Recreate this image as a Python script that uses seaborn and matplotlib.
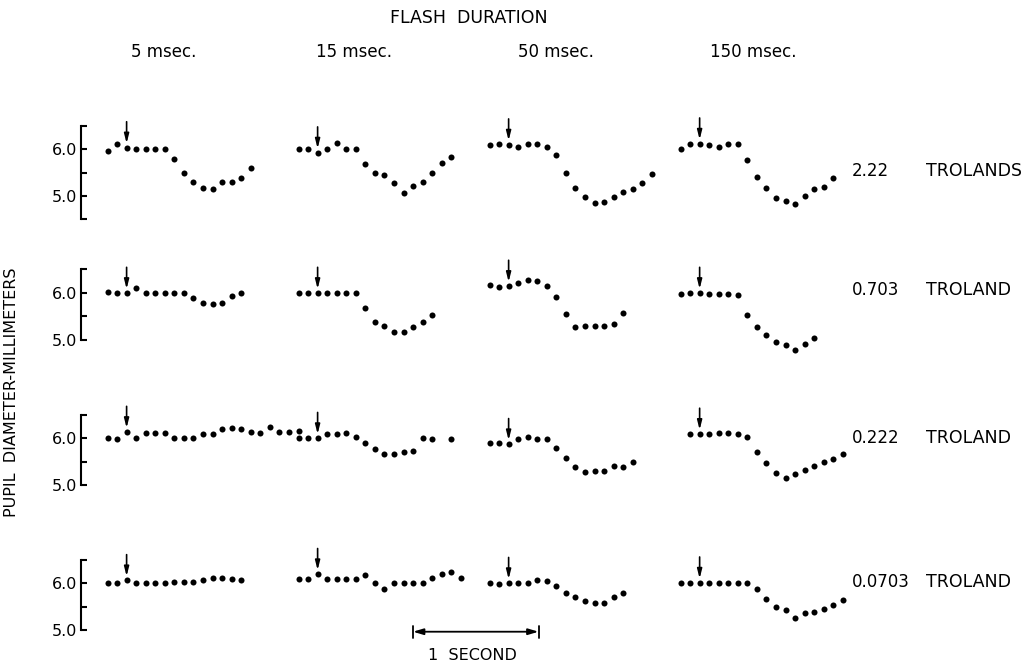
import numpy as np
import pandas as pd
import matplotlib
matplotlib.use("Agg")
import matplotlib.pyplot as plt
import seaborn as sns

# ---------------------------------------------------------------------------
# Pupil diameter (mm), one reading per film frame, for each retinal
# illuminance (rows) and flash duration (columns). NaN = frame not scored.
# ---------------------------------------------------------------------------
nan = np.nan

durations = ["5 msec.", "15 msec.", "50 msec.", "150 msec."]
illuminance_values = ["2.22", "0.703", "0.222", "0.0703"]
illuminance_units = ["TROLANDS", "TROLAND", "TROLAND", "TROLAND"]

# 2.22 trolands
d_222_5 = [5.96, 6.10, 6.03, 6.01, 6.01, 6.01, 6.01, 5.79, 5.48, 5.29, 5.18, 5.14, 5.29, 5.29, 5.39, 5.59]
d_222_15 = [6.01, 6.01, 5.92, 6.01, 6.13, 6.01, 6.01, 5.68, 5.50, 5.45, 5.28, 5.07, 5.21, 5.29, 5.50, 5.71, 5.82]
d_222_50 = [6.09, 6.10, 6.09, 6.05, 6.10, 6.10, 6.04, 5.88, 5.48, 5.16, 4.97, 4.86, 4.87, 4.97, 5.08, 5.15, 5.28, 5.46]
d_222_150 = [6.00, 6.11, 6.11, 6.09, 6.04, 6.11, 6.10, 5.77, 5.40, 5.16, 4.95, 4.89, 4.84, 4.99, 5.15, 5.19, 5.38]

# 0.703 troland
d_0703_5 = [6.01, 6.00, 5.99, 6.11, 6.00, 6.00, 6.00, 5.99, 6.00, 5.89, 5.79, 5.76, 5.79, 5.92, 5.99]
d_0703_15 = [5.99, 5.99, 5.99, 5.99, 5.99, 6.00, 6.00, 5.68, 5.37, 5.30, 5.16, 5.16, 5.26, 5.37, 5.53]
d_0703_50 = [6.16, 6.13, 6.14, 6.20, 6.27, 6.25, 6.15, 5.90, 5.55, 5.26, 5.29, 5.30, 5.30, 5.33, 5.56]
d_0703_150 = [5.97, 5.99, 5.99, 5.97, 5.97, 5.97, 5.95, 5.53, 5.26, 5.10, 4.95, 4.89, 4.78, 4.90, 5.03]

# 0.222 troland
d_0222_5 = [6.01, 5.99, 6.13, 6.00, 6.11, 6.12, 6.11, 6.00, 6.00, 6.00, 6.09, 6.09, 6.20, 6.21, 6.20,
            6.14, 6.12, 6.23, 6.13, 6.13, 6.16]
d_0222_15 = [6.00, 6.00, 6.00, 6.09, 6.09, 6.12, 6.03, 5.89, 5.77, 5.66, 5.66, 5.71, 5.73, 6.01, 5.99, nan, 5.99]
d_0222_50 = [5.89, 5.89, 5.87, 5.98, 6.02, 5.99, 5.99, 5.80, 5.59, 5.39, 5.28, 5.30, 5.31, 5.41, 5.38, 5.50]
d_0222_150 = [nan, 6.09, 6.09, 6.09, 6.11, 6.11, 6.09, 6.03, 5.70, 5.48, 5.27, 5.16, 5.25, 5.32, 5.41,
              5.49, 5.57, 5.66]

# 0.0703 troland
d_00703_5 = [6.00, 6.00, 6.06, 6.00, 6.00, 6.00, 6.00, 6.03, 6.02, 6.02, 6.07, 6.11, 6.11, 6.09, 6.06]
d_00703_15 = [6.09, 6.09, 6.19, 6.09, 6.09, 6.09, 6.09, 6.18, 6.00, 5.88, 6.00, 6.00, 6.00, 6.01, 6.11,
              6.19, 6.25, 6.11]
d_00703_50 = [6.00, 5.99, 6.00, 6.00, 6.00, 6.07, 6.05, 5.95, 5.79, 5.70, 5.63, 5.59, 5.59, 5.71, 5.80]
d_00703_150 = [6.01, 6.00, 6.01, 6.01, 6.01, 6.01, 6.01, 6.01, 5.87, 5.66, 5.50, 5.43, 5.27, 5.37, 5.39,
               5.46, 5.54, 5.64]

records = [
    [d_222_5, d_222_15, d_222_50, d_222_150],
    [d_0703_5, d_0703_15, d_0703_50, d_0703_150],
    [d_0222_5, d_0222_15, d_0222_50, d_0222_150],
    [d_00703_5, d_00703_15, d_00703_50, d_00703_150],
]

FRAME_INTERVAL = 0.0761      # s between film frames
FRAMES_PER_COLUMN = 20       # horizontal offset between flash-duration records
FLASH_FRAME = 2              # frame at which the flash is delivered

rows = []
for r, row in enumerate(records):
    for c, series in enumerate(row):
        for i, v in enumerate(series):
            rows.append({"row": r, "col": c, "frame": i,
                         "time": (c * FRAMES_PER_COLUMN + i) * FRAME_INTERVAL,
                         "diameter": v})
df = pd.DataFrame(rows)

# ---------------------------------------------------------------------------
sns.set_style("white")
plt.rcParams["font.family"] = ["DejaVu Sans"]
plt.rcParams["text.color"] = "black"
plt.rcParams["ytick.color"] = "black"
plt.rcParams["ytick.labelcolor"] = "black"

W, H = 1032, 665
fig = plt.figure(figsize=(W / 100, H / 100), dpi=100)

PX_PER_MM = 47.0
PX_PER_S = 125.5
row_six_px = [149.0, 292.7, 438.3, 583.3]     # pixel height of the 6.0 mm tick
axis_left_px = 81.0
t0_px = 107.5                                  # pixel of time zero
above_px, below_px = 40.0, 75.0

x_lo = (axis_left_px - t0_px) / PX_PER_S
x_hi = (W - t0_px) / PX_PER_S

tick_len = 6 / 1.389
axes = []
for r in range(4):
    y6 = row_six_px[r]
    ax = fig.add_axes([axis_left_px / W, 1 - (y6 + below_px) / H,
                       (W - axis_left_px) / W, (above_px + below_px) / H])
    ax.patch.set_alpha(0)
    sub = df[df["row"] == r].dropna()
    sns.scatterplot(data=sub, x="time", y="diameter", color="black", s=19,
                    linewidth=0, legend=False, ax=ax)
    ax.set_xlim(x_lo, x_hi)
    ax.set_ylim(6 - below_px / PX_PER_MM, 6 + above_px / PX_PER_MM)
    for side in ("top", "right", "bottom"):
        ax.spines[side].set_visible(False)
    ax.spines["left"].set_linewidth(1.5)
    ax.spines["left"].set_color("black")
    lower = 4.5 if r == 0 else 5.0
    ax.spines["left"].set_bounds(lower, 6.5)
    ax.set_yticks([5.0, 6.0])
    ax.set_yticklabels(["5.0", "6.0"])
    ax.set_yticks([6.5, 5.5] + ([4.5] if r == 0 else []), minor=True)
    ax.tick_params(axis="y", which="both", left=True, direction="in", length=tick_len,
                   width=1.5, color="black", labelcolor="black", labelsize=11.5, pad=3)
    ax.set_xticks([])
    ax.set_xlabel("")
    ax.set_ylabel("")

    # flash markers
    for c, series in enumerate(records[r]):
        t = (c * FRAMES_PER_COLUMN + FLASH_FRAME) * FRAME_INTERVAL
        v = series[FLASH_FRAME]
        ax.annotate("", xy=(t, v + 0.09), xytext=(t, v + 0.55),
                    arrowprops=dict(arrowstyle="-|>,head_length=0.55,head_width=0.14",
                                    color="black", lw=1.2, shrinkA=0, shrinkB=0))
    axes.append(ax)

# time scale bar
ax = axes[-1]
bar_t0 = (413 - t0_px) / PX_PER_S
bar_t1 = bar_t0 + 1.0
bar_y = 4.97
ax.annotate("", xy=(bar_t0, bar_y), xytext=(bar_t1, bar_y),
            arrowprops=dict(arrowstyle="<|-|>,head_length=0.6,head_width=0.18",
                            color="black", lw=1.3, shrinkA=0, shrinkB=0))
for tb in (bar_t0, bar_t1):
    ax.plot([tb, tb], [bar_y - 0.13, bar_y + 0.13], color="black", lw=1.3)

fig.text(472 / W, 1 - 655 / H, "1  SECOND", ha="center", va="center", fontsize=11.5)

# headings
fig.text(469 / W, 1 - 18 / H, "FLASH  DURATION", ha="center", va="center", fontsize=12.5)
for cx, lab in zip([164, 354, 556, 753], durations):
    fig.text(cx / W, 1 - 52 / H, lab, ha="center", va="center", fontsize=12)

for y, val, unit in zip([171, 290, 438, 582], illuminance_values, illuminance_units):
    fig.text(852 / W, 1 - y / H, val, ha="left", va="center", fontsize=12)
    fig.text(926 / W, 1 - y / H, unit, ha="left", va="center", fontsize=12.5)

fig.text(12 / W, 1 - 392 / H, "PUPIL  DIAMETER-MILLIMETERS", rotation=90,
         ha="center", va="center", fontsize=11.5)

fig.savefig("out.png", dpi=100)
